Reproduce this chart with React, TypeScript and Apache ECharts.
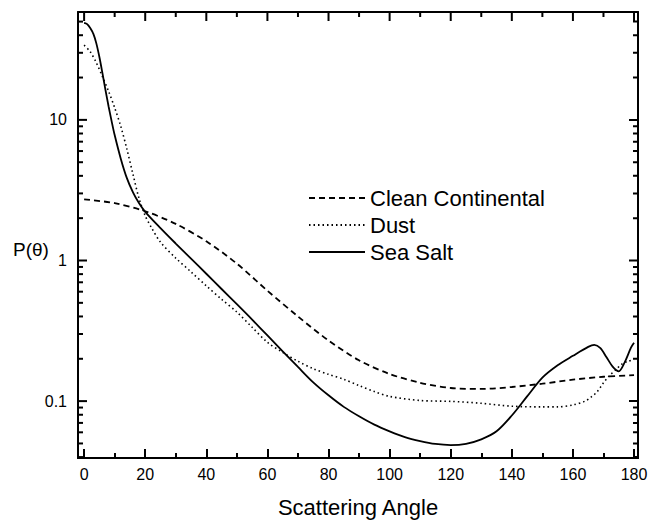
import React, { useEffect, useRef } from "react";
import * as echarts from "echarts";

const seriesNames = ["Clean Continental", "Dust", "Sea Salt"];

const cleanAngles = [0, 10, 20, 30, 40, 50, 60, 70, 80, 90, 100, 110, 120, 130, 140, 150, 160, 170, 180];
const cleanValues = [2.72, 2.56, 2.24, 1.82, 1.37, 0.95, 0.61, 0.4, 0.27, 0.195, 0.156, 0.135, 0.124, 0.122, 0.126, 0.133, 0.142, 0.149, 0.153];

const dustAngles = [0, 2, 4, 6, 8, 10, 12, 14, 16, 18, 20, 22, 25, 30, 35, 40, 45, 50, 55, 60, 65, 70, 75, 80, 85, 90, 95, 100, 110, 120, 130, 140, 150, 155, 160, 164, 166, 168, 170, 172, 174, 176, 178, 180];
const dustValues = [34, 30.5, 25.5, 20.3, 16, 12.2, 9.0, 6.2, 4.1, 2.75, 2.08, 1.72, 1.35, 1.04, 0.83, 0.66, 0.53, 0.43, 0.335, 0.262, 0.222, 0.192, 0.17, 0.155, 0.143, 0.129, 0.117, 0.108, 0.101, 0.0996, 0.0965, 0.092, 0.091, 0.091, 0.094, 0.1, 0.107, 0.117, 0.135, 0.152, 0.167, 0.183, 0.192, 0.197];

const seaAngles = [0, 1, 2, 3, 4, 5, 6, 7, 8, 9, 10, 12, 14, 16, 18, 20, 25, 30, 35, 40, 45, 50, 55, 60, 65, 70, 75, 80, 85, 90, 95, 100, 105, 110, 115, 120, 125, 130, 135, 140, 145, 150, 155, 160, 165, 167, 169, 171, 173, 175, 177, 179, 180];
const seaValues = [49, 48, 45, 41, 35, 28, 21.5, 16.3, 12.5, 9.8, 7.8, 5.3, 3.85, 3.05, 2.55, 2.22, 1.7, 1.32, 1.03, 0.805, 0.627, 0.489, 0.38, 0.293, 0.226, 0.175, 0.136, 0.11, 0.091, 0.078, 0.068, 0.061, 0.0555, 0.052, 0.0496, 0.0487, 0.0497, 0.0535, 0.061, 0.079, 0.108, 0.147, 0.18, 0.21, 0.243, 0.251, 0.238, 0.205, 0.176, 0.163, 0.19, 0.24, 0.26];

const xTickLabels = [0, 20, 40, 60, 80, 100, 120, 140, 160, 180];
const xMinorTicks = [10, 30, 50, 70, 90, 110, 130, 150, 170];
const yTickLabels = [0.1, 1, 10];
const yMinorTicks = [0.04, 0.05, 0.06, 0.07, 0.08, 0.09, 0.2, 0.3, 0.4, 0.5, 0.6, 0.7, 0.8, 0.9, 2, 3, 4, 5, 6, 7, 8, 9, 20, 30, 40, 50];

const X_MIN = -2;
const X_MAX = 181.3;
const Y_MIN = 0.0394;
const Y_MAX = 58.5;

const FONT = "Liberation Sans, Arial, Helvetica, sans-serif";

function zip(a: number[], b: number[]) {
  return a.map((x, i) => [x, b[i]]);
}

function frameLine() {
  return { show: true, onZero: false, lineStyle: { color: "#000", width: 2 } };
}

export default function App() {
  const ref = useRef<HTMLDivElement>(null);
  useEffect(() => {
    if (!ref.current) return;
    const chart = echarts.init(ref.current, undefined, { renderer: "svg" });

    // left-side ticks (custom series): values and lengths
    const leftTickValues = [...yTickLabels, ...yMinorTicks];
    const leftTickLens = [...yTickLabels.map(() => 9), ...yMinorTicks.map(() => 5)];

    const baseSeries: any[] = [
      {
        name: "Clean Continental",
        type: "line",
        data: zip(cleanAngles, cleanValues),
        showSymbol: false,
        symbol: "none",
        smooth: 0.3,
        lineStyle: { color: "#000", width: 1.8, type: [6, 4] },
        itemStyle: { color: "#000" },
      },
      {
        name: "Dust",
        type: "line",
        data: zip(dustAngles, dustValues),
        showSymbol: false,
        symbol: "none",
        smooth: 0.3,
        lineStyle: { color: "#000", width: 1.6, type: [1.5, 3] },
        itemStyle: { color: "#000" },
      },
      {
        name: "Sea Salt",
        type: "line",
        data: zip(seaAngles, seaValues),
        showSymbol: false,
        symbol: "none",
        smooth: 0.3,
        lineStyle: { color: "#000", width: 1.8, type: "solid" },
        itemStyle: { color: "#000" },
      },
      {
        name: "left ticks",
        type: "custom",
        data: leftTickValues.map((v) => [X_MIN, v]),
        renderItem: (params: any, api: any) => {
          const p = api.coord([api.value(0), api.value(1)]);
          const len = leftTickLens[params.dataIndex];
          return {
            type: "rect",
            shape: { x: p[0], y: p[1] - 1, width: len, height: 2 },
            style: { fill: "#000" },
          };
        },
      },
    ];

    const option: any = {
      animation: false,
      backgroundColor: "#fff",
      grid: { left: 78, right: 14, top: 12, bottom: 64, show: false },
      legend: {
        data: seriesNames,
        orient: "vertical",
        left: 308,
        top: 187,
        padding: 0,
        itemWidth: 56,
        itemHeight: 14,
        itemGap: 5,
        selectedMode: false,
        itemStyle: { opacity: 0 },
        textStyle: { fontSize: 22, fontFamily: FONT, color: "#000", lineHeight: 22 },
      },
      xAxis: [
        {
          type: "value",
          position: "bottom",
          min: X_MIN,
          max: X_MAX,
          splitLine: { show: false },
          axisLine: frameLine(),
          axisTick: {
            show: true,
            inside: true,
            length: 9,
            customValues: xTickLabels,
            lineStyle: { color: "#000", width: 2 },
          },
          axisLabel: {
            customValues: xTickLabels,
            color: "#000",
            fontSize: 16,
            fontFamily: FONT,
            margin: 8,
          },
          name: "Scattering Angle",
          nameLocation: "middle",
          nameGap: 38,
          nameTextStyle: { fontSize: 22, fontFamily: FONT, color: "#000" },
        },
        {
          type: "value",
          position: "top",
          min: X_MIN,
          max: X_MAX,
          splitLine: { show: false },
          axisLine: frameLine(),
          axisTick: { show: false },
          axisLabel: { show: false },
        },
        {
          type: "value",
          position: "bottom",
          min: X_MIN,
          max: X_MAX,
          splitLine: { show: false },
          axisLine: frameLine(),
          axisTick: {
            show: true,
            inside: true,
            length: 5,
            customValues: xMinorTicks,
            lineStyle: { color: "#000", width: 2 },
          },
          axisLabel: { show: false },
        },
      ],
      yAxis: [
        {
          type: "log",
          position: "left",
          min: Y_MIN,
          max: Y_MAX,
          splitLine: { show: false },
          axisLine: frameLine(),
          axisTick: { show: false },
          axisLabel: {
            color: "#000",
            fontSize: 16,
            fontFamily: FONT,
            margin: 11,
            formatter: (v: number) => {
              const hit = yTickLabels.find((t) => Math.abs(t - v) / t < 1e-6);
              return hit !== undefined ? String(hit) : "";
            },
          },
        },
        {
          type: "log",
          position: "right",
          min: Y_MIN,
          max: Y_MAX,
          splitLine: { show: false },
          axisLine: frameLine(),
          axisTick: { show: false },
          axisLabel: { show: false },
        },
      ],
      graphic: [
        {
          type: "text",
          left: 13,
          top: 240,
          style: { text: "P(θ)", fontSize: 19, fontFamily: FONT, fill: "#000" },
        },
      ],
      series: baseSeries,
    };
    chart.setOption(option);

    const toPx = (x: number, y: number) =>
      chart.convertToPixel({ xAxisIndex: 0, yAxisIndex: 0 }, [x, y]) as number[];
    const fromPx = (px: number, py: number) =>
      chart.convertFromPixel({ xAxisIndex: 0, yAxisIndex: 0 }, [px, py]) as number[];
    const bl = toPx(X_MIN, Y_MIN);
    const tr = toPx(X_MAX, Y_MAX);
    const leftPx = bl[0];
    const bottomPx = bl[1];
    const rightPx = tr[0];
    const topPx = tr[1];

    // top-side ticks (graphic rects)
    const graphics: any[] = [
      {
        type: "text",
        left: 13,
        top: 240,
        style: { text: "P(θ)", fontSize: 19, fontFamily: FONT, fill: "#000" },
      },
    ];
    const addTop = (v: number, len: number) => {
      const px = toPx(v, 1)[0];
      graphics.push({
        type: "rect",
        shape: { x: px - 1, y: topPx, width: 2, height: len },
        style: { fill: "#000" },
      });
    };
    xTickLabels.forEach((v) => addTop(v, 9));
    xMinorTicks.forEach((v) => addTop(v, 5));

    // right-side ticks (line series segments)
    const rightData: any[] = [];
    const addRight = (v: number, len: number) => {
      const xR = fromPx(rightPx - len, bottomPx)[0];
      rightData.push([X_MAX, v], [xR, v], ["-", "-"]);
    };
    yTickLabels.forEach((v) => addRight(v, 9));
    yMinorTicks.forEach((v) => addRight(v, 5));

    chart.setOption({
      graphic: graphics,
      series: [
        ...baseSeries,
        {
          name: "right ticks",
          type: "line",
          data: rightData,
          connectNulls: false,
          showSymbol: false,
          symbol: "none",
          clip: false,
          lineStyle: { color: "#000", width: 2, type: "solid" },
          itemStyle: { color: "#000" },
        },
      ],
    });
    return () => chart.dispose();
  }, []);
  return (
    <div
      ref={ref}
      style={{ position: "absolute", left: 0, top: 0, width: 652, height: 523, background: "#fff" }}
    />
  );
}
